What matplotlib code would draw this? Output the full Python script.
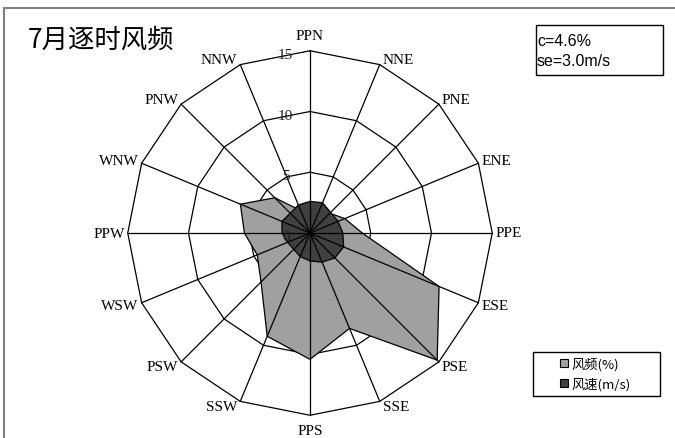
import numpy as np
import matplotlib.pyplot as plt
from matplotlib.patches import Rectangle, Patch

# 16 方位
dirs = ['PPN', 'NNE', 'PNE', 'ENE', 'PPE', 'ESE', 'PSE', 'SSE',
        'PPS', 'SSW', 'PSW', 'WSW', 'PPW', 'WNW', 'PNW', 'NNW']
# 风频 (%)
freq = [2.0, 2.0, 2.3, 3.1, 4.3, 11.5, 14.8, 8.5,
        10.4, 9.2, 5.7, 4.7, 5.4, 6.2, 4.1, 2.0]
# 风速 (m/s)
speed = [2.6, 2.7, 2.4, 2.5, 2.7, 3.0, 2.9, 2.6,
         2.3, 2.1, 1.9, 2.0, 2.3, 2.5, 2.3, 2.5]
rings = [0, 5, 10, 15]
calm = 'c=4.6%'
mean_speed = 'se=3.0m/s'

cjk = ['Noto Sans CJK SC', 'DejaVu Sans']
serif = 'Liberation Serif'

ang = np.deg2rad(np.arange(len(dirs)) * 360 / len(dirs))


def xy(vals):
    v = np.asarray(vals, dtype=float)
    x = v * np.sin(ang)
    y = v * np.cos(ang)
    return np.append(x, x[0]), np.append(y, y[0])


fig = plt.figure(figsize=(6.75, 4.39), dpi=100)
ax = fig.add_axes([0, 0, 1, 1])
# center of the rose at pixel (310, 234), 12.15 px per unit
ax.set_xlim(-310 / 12.15, 365 / 12.15)
ax.set_ylim(-205 / 12.15, 234 / 12.15)
ax.axis('off')

# outer frame
fig.add_artist(Rectangle((4 / 675, -0.1), 1.2, 1 - 9 / 439 + 0.1,
                         transform=fig.transFigure, fill=False,
                         edgecolor='#808080', lw=1.5))

# rings
for r in rings[1:]:
    gx, gy = xy([r] * len(dirs))
    ax.plot(gx, gy, color='black', lw=0.9, zorder=1)

fx, fy = xy(freq)
ax.fill(fx, fy, facecolor='#a0a0a0', edgecolor='black', lw=0.9, zorder=2)
sx, sy = xy(speed)
ax.fill(sx, sy, facecolor='#404040', edgecolor='black', lw=0.9, zorder=3)

# spokes
R = rings[-1]
for a in ang:
    ax.plot([0, R * np.sin(a)], [0, R * np.cos(a)], color='black', lw=0.9, zorder=4)

# direction labels next to the outer vertices
for a, d in zip(ang, dirs):
    s, c = np.sin(a), np.cos(a)
    if abs(s) < 0.01:
        ha = 'center'
        va = 'bottom' if c > 0 else 'top'
        off = (0, 9 if c > 0 else -9)
    else:
        ha = 'left' if s > 0 else 'right'
        va = 'center'
        off = (3 if s > 0 else -3, 6 * c)
    ax.annotate(d, (R * s, R * c), xytext=off, textcoords='offset pixels',
                ha=ha, va=va, family=serif, fontsize=11, zorder=5)

for r in rings:
    ax.text(-2.0, r - 0.3, str(r), ha='center', va='center',
            family=serif, fontsize=11, color='#202020', zorder=5)

fig.text(28 / 675, 1 - 40 / 439, '7月逐时风频', family=cjk, fontsize=19,
         ha='left', va='center')

# calm / mean speed box
fig.add_artist(Rectangle((536 / 675, 1 - 76 / 439), 127 / 675, 50 / 439,
                         transform=fig.transFigure, fill=False,
                         edgecolor='black', lw=1))
fig.text(537 / 675, 1 - 42 / 439, calm, family='Liberation Sans', fontsize=11.5,
         ha='left', va='center')
fig.text(537 / 675, 1 - 62 / 439, mean_speed, family='Liberation Sans', fontsize=11.5,
         ha='left', va='center')

# legend
fig.add_artist(Rectangle((533 / 675, 1 - 397 / 439), 127 / 675, 44 / 439,
                         transform=fig.transFigure, fill=False,
                         edgecolor='black', lw=1))
handles = [Patch(facecolor='#a0a0a0', edgecolor='black', lw=0.8, label='风频(%)'),
           Patch(facecolor='#404040', edgecolor='black', lw=0.8, label='风速(m/s)')]
fig.legend(handles=handles, loc='center left',
           bbox_to_anchor=(560 / 675, 1 - 375 / 439), frameon=False,
           prop={'family': cjk, 'size': 9.5}, handlelength=0.6, handleheight=0.6,
           handletextpad=0.3, labelspacing=0.5, borderpad=0, borderaxespad=0)

fig.savefig('out.png', dpi=100)
